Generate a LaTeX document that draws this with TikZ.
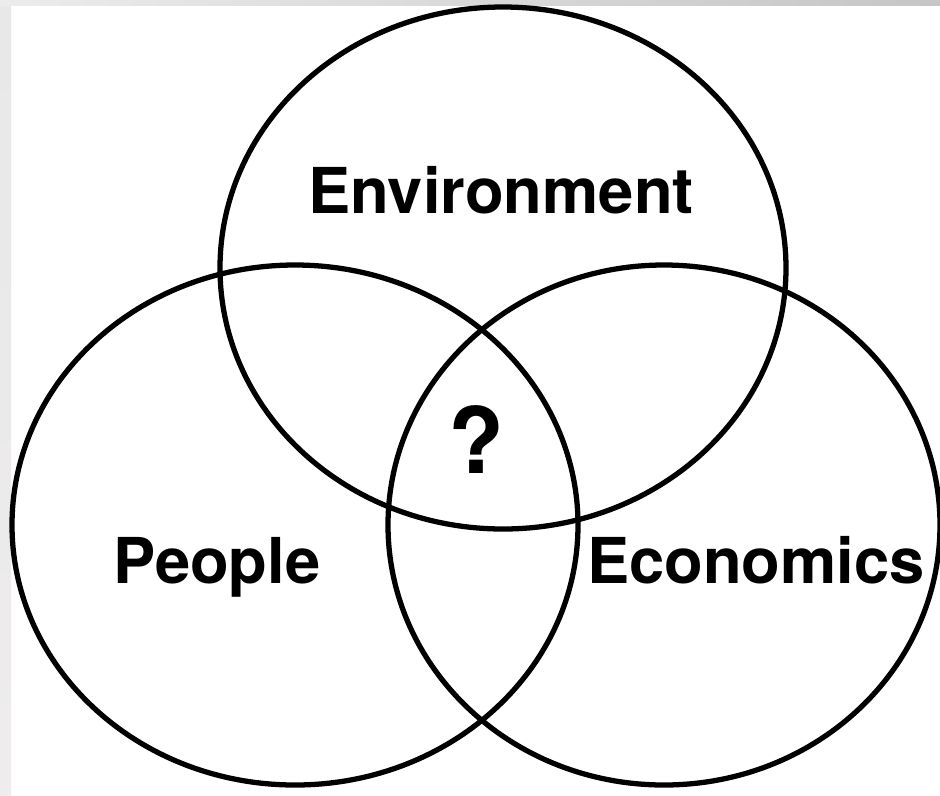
\documentclass[tikz,border=0pt]{standalone}
\usepackage{fontspec}
\setmainfont{TeX Gyre Heros}
\usetikzlibrary{positioning}

\tikzset{
  ring/.style={line width=1.5pt, black},
  vlabel/.style={font=\bfseries\fontsize{18}{20}\selectfont, anchor=base, inner sep=0pt}
}

\begin{document}
\begin{tikzpicture}[x=0.1mm, y=-0.1mm]
\useasboundingbox (0,0) rectangle (940,795);
% background and edge strips
\fill[white] (0,0) rectangle (940,795);
\shade[top color=gray!18, bottom color=red!6!gray!14] (0,0) rectangle (11,795);
\shade[left color=gray!15, right color=gray!45] (0,0) rectangle (940,5);
% centres of the three sets
\coordinate (E) at (503,268); \coordinate (P) at (295,525); \coordinate (C) at (664,525);
\draw[ring] (E) ellipse [x radius=28.3mm, y radius=26.1mm];
\draw[ring] (P) ellipse [x radius=28.3mm, y radius=26.0mm];
\draw[ring] (C) ellipse [x radius=27.6mm, y radius=26.0mm];
% labels
\node[vlabel] (env) at (501,213) {Environment};
\node[vlabel] (ppl) at (217,583) {People};
\node[vlabel] (eco) at (756,583) {Economics};
\node[vlabel, font=\bfseries\fontsize{26}{28}\selectfont] (mid) at (476,473) {?};
\end{tikzpicture}
\end{document}
